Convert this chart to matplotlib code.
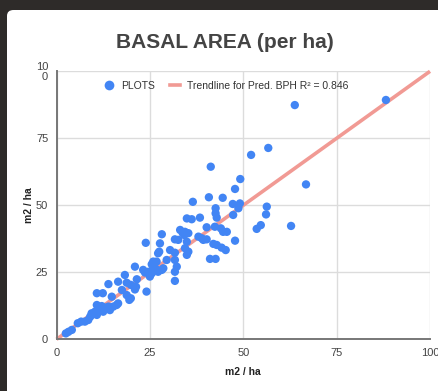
import matplotlib
matplotlib.use("Agg")
import matplotlib.pyplot as plt
from matplotlib.patches import FancyBboxPatch
from matplotlib.lines import Line2D
import numpy as np

# observed vs predicted basal area per plot (m2 / ha)
plot_x = [
    2.5, 3.2, 4.1, 5.7, 6.6, 7.6, 8.5, 9.0, 9.4, 10.3, 10.8, 11.6, 12.5, 12.1, 13.0,
    13.9, 14.3, 15.2, 16.1, 16.5, 10.8, 9.4, 10.8, 12.4, 14.8, 13.9, 16.5, 18.8, 18.3,
    19.9, 17.5, 18.8, 19.9, 19.5, 21.0, 21.5, 21.3, 21.0, 24.1, 23.9, 23.2, 23.7, 24.6,
    25.0, 25.5, 25.5, 25.9, 26.4, 26.8, 26.8, 27.2, 25.9, 27.2, 27.7, 27.5, 28.2, 28.6,
    29.5, 28.2, 30.4, 31.7, 31.7, 32.2, 31.7, 31.7, 32.6, 31.7, 33.1, 33.8, 34.2, 34.4,
    35.3, 34.9, 36.2, 34.9, 34.4, 35.3, 34.9, 36.5, 38.4, 38.0, 38.9, 39.3, 40.2, 40.8,
    41.3, 40.2, 41.1, 42.6, 42.0, 42.9, 42.6, 42.6, 42.9, 42.4, 44.0, 44.6, 45.6, 44.2,
    45.3, 44.5, 47.3, 47.2, 47.8, 48.7, 49.1, 49.2, 47.8, 52.1, 56.7, 66.8, 56.3, 56.1,
    54.7, 53.6, 62.8, 63.8, 88.2,
]
plot_y = [
    2.2, 2.8, 3.5, 6.0, 6.6, 6.6, 7.2, 8.4, 9.7, 10.3, 9.1, 11.2, 10.3, 12.4, 11.8,
    12.2, 10.9, 12.2, 12.8, 13.4, 12.8, 9.1, 17.2, 17.2, 15.9, 20.6, 21.5, 21.1, 24.0,
    20.3, 18.4, 16.5, 15.3, 14.7, 27.1, 22.4, 19.6, 18.6, 17.8, 36.0, 25.9, 24.9, 25.2,
    23.4, 24.6, 28.0, 27.1, 26.5, 25.9, 29.0, 25.2, 29.0, 32.1, 35.8, 32.7, 39.2, 26.5,
    29.6, 25.9, 33.3, 32.3, 29.6, 27.1, 25.2, 21.8, 37.1, 37.3, 40.8, 39.6, 38.9, 40.1,
    39.6, 45.1, 44.8, 36.4, 34.0, 32.7, 31.5, 51.3, 45.4, 38.3, 37.7, 37.1, 37.3, 53.0,
    64.4, 41.8, 30.0, 30.0, 35.6, 35.2, 48.9, 47.0, 45.4, 42.0, 41.4, 40.1, 40.1, 34.2,
    33.3, 52.8, 46.4, 50.5, 36.8, 48.9, 50.7, 59.8, 56.1, 68.8, 71.4, 57.8, 49.5, 46.6,
    42.6, 41.2, 42.3, 87.4, 89.3,
]

# linear trendline fitted in the spreadsheet
trend_slope = 1.0
trend_intercept = 0.0
trend_r2 = 0.846

ticks = [0, 25, 50, 75, 100]
x_tick_labels = ["0", "25", "50", "75", "100"]
y_tick_labels = ["0", "25", "50", "75", "10\n0"]

plt.rcParams["font.family"] = ["Liberation Sans", "DejaVu Sans"]

W, H = 438, 391
fig = plt.figure(figsize=(W / 100, H / 100), dpi=100)
fig.patch.set_facecolor("#2e2b29")

# white chart card behind everything
card = FancyBboxPatch((7 / W, -0.1), 1.2, (H - 10) / H + 0.1,
                      boxstyle="round,pad=0,rounding_size=0.015",
                      transform=fig.transFigure, facecolor="white",
                      edgecolor="none", zorder=-10)
fig.patches.append(card)

ax = fig.add_axes([56.5 / W, 1 - 339.3 / H, (430 - 56.5) / W, (339.3 - 71.3) / H])
ax.set_zorder(1)
ax.set_facecolor("white")

xs = np.array([0, 100])
ax.plot(xs, trend_slope * xs + trend_intercept, color="#f19a94", lw=2.6,
        solid_capstyle="butt", zorder=2, clip_on=False)
ax.scatter(plot_x, plot_y, s=36, color="#4285f4", edgecolors="none", zorder=3)

ax.set_xlim(0, 100)
ax.set_ylim(0, 100)
ax.set_xticks(ticks)
ax.set_yticks(ticks)
ax.set_xticklabels(x_tick_labels)
ax.set_yticklabels(y_tick_labels, linespacing=0.9)
ax.tick_params(length=0, labelsize=8, labelcolor="#444444")
ax.tick_params(axis="x", pad=6)
ax.tick_params(axis="y", pad=6)
ax.grid(True, color="#dcdcdc", lw=1)
ax.set_axisbelow(True)
for side in ("top", "right"):
    ax.spines[side].set_visible(False)
for side in ("left", "bottom"):
    ax.spines[side].set_color("#777777")
    ax.spines[side].set_linewidth(1.4)

ax.set_xlabel("m2 / ha", fontsize=7.5, fontweight="bold", color="#222222", labelpad=7)
ax.set_ylabel("m2 / ha", fontsize=7.5, fontweight="bold", color="#222222", labelpad=1)

fig.text(225 / W, 1 - 42 / H, "BASAL AREA (per ha)", ha="center", va="center",
         fontsize=15, fontweight="bold", color="#444444")

handles = [
    Line2D([], [], ls="none", marker="o", markersize=7, color="#4285f4",
           markeredgewidth=0),
    Line2D([], [], color="#f19a94", lw=2.6),
]
labels = ["PLOTS", f"Trendline for Pred. BPH R\u00b2 = {trend_r2}"]
leg = fig.legend(handles, labels, loc="center", bbox_to_anchor=(226 / W, 1 - 86 / H),
                 ncol=2, frameon=False, fontsize=7.5, handlelength=1.0,
                 handletextpad=0.7, columnspacing=1.4, labelcolor="#333333")
leg.set_zorder(5)

fig.savefig("out.png", dpi=100, facecolor=fig.get_facecolor())
